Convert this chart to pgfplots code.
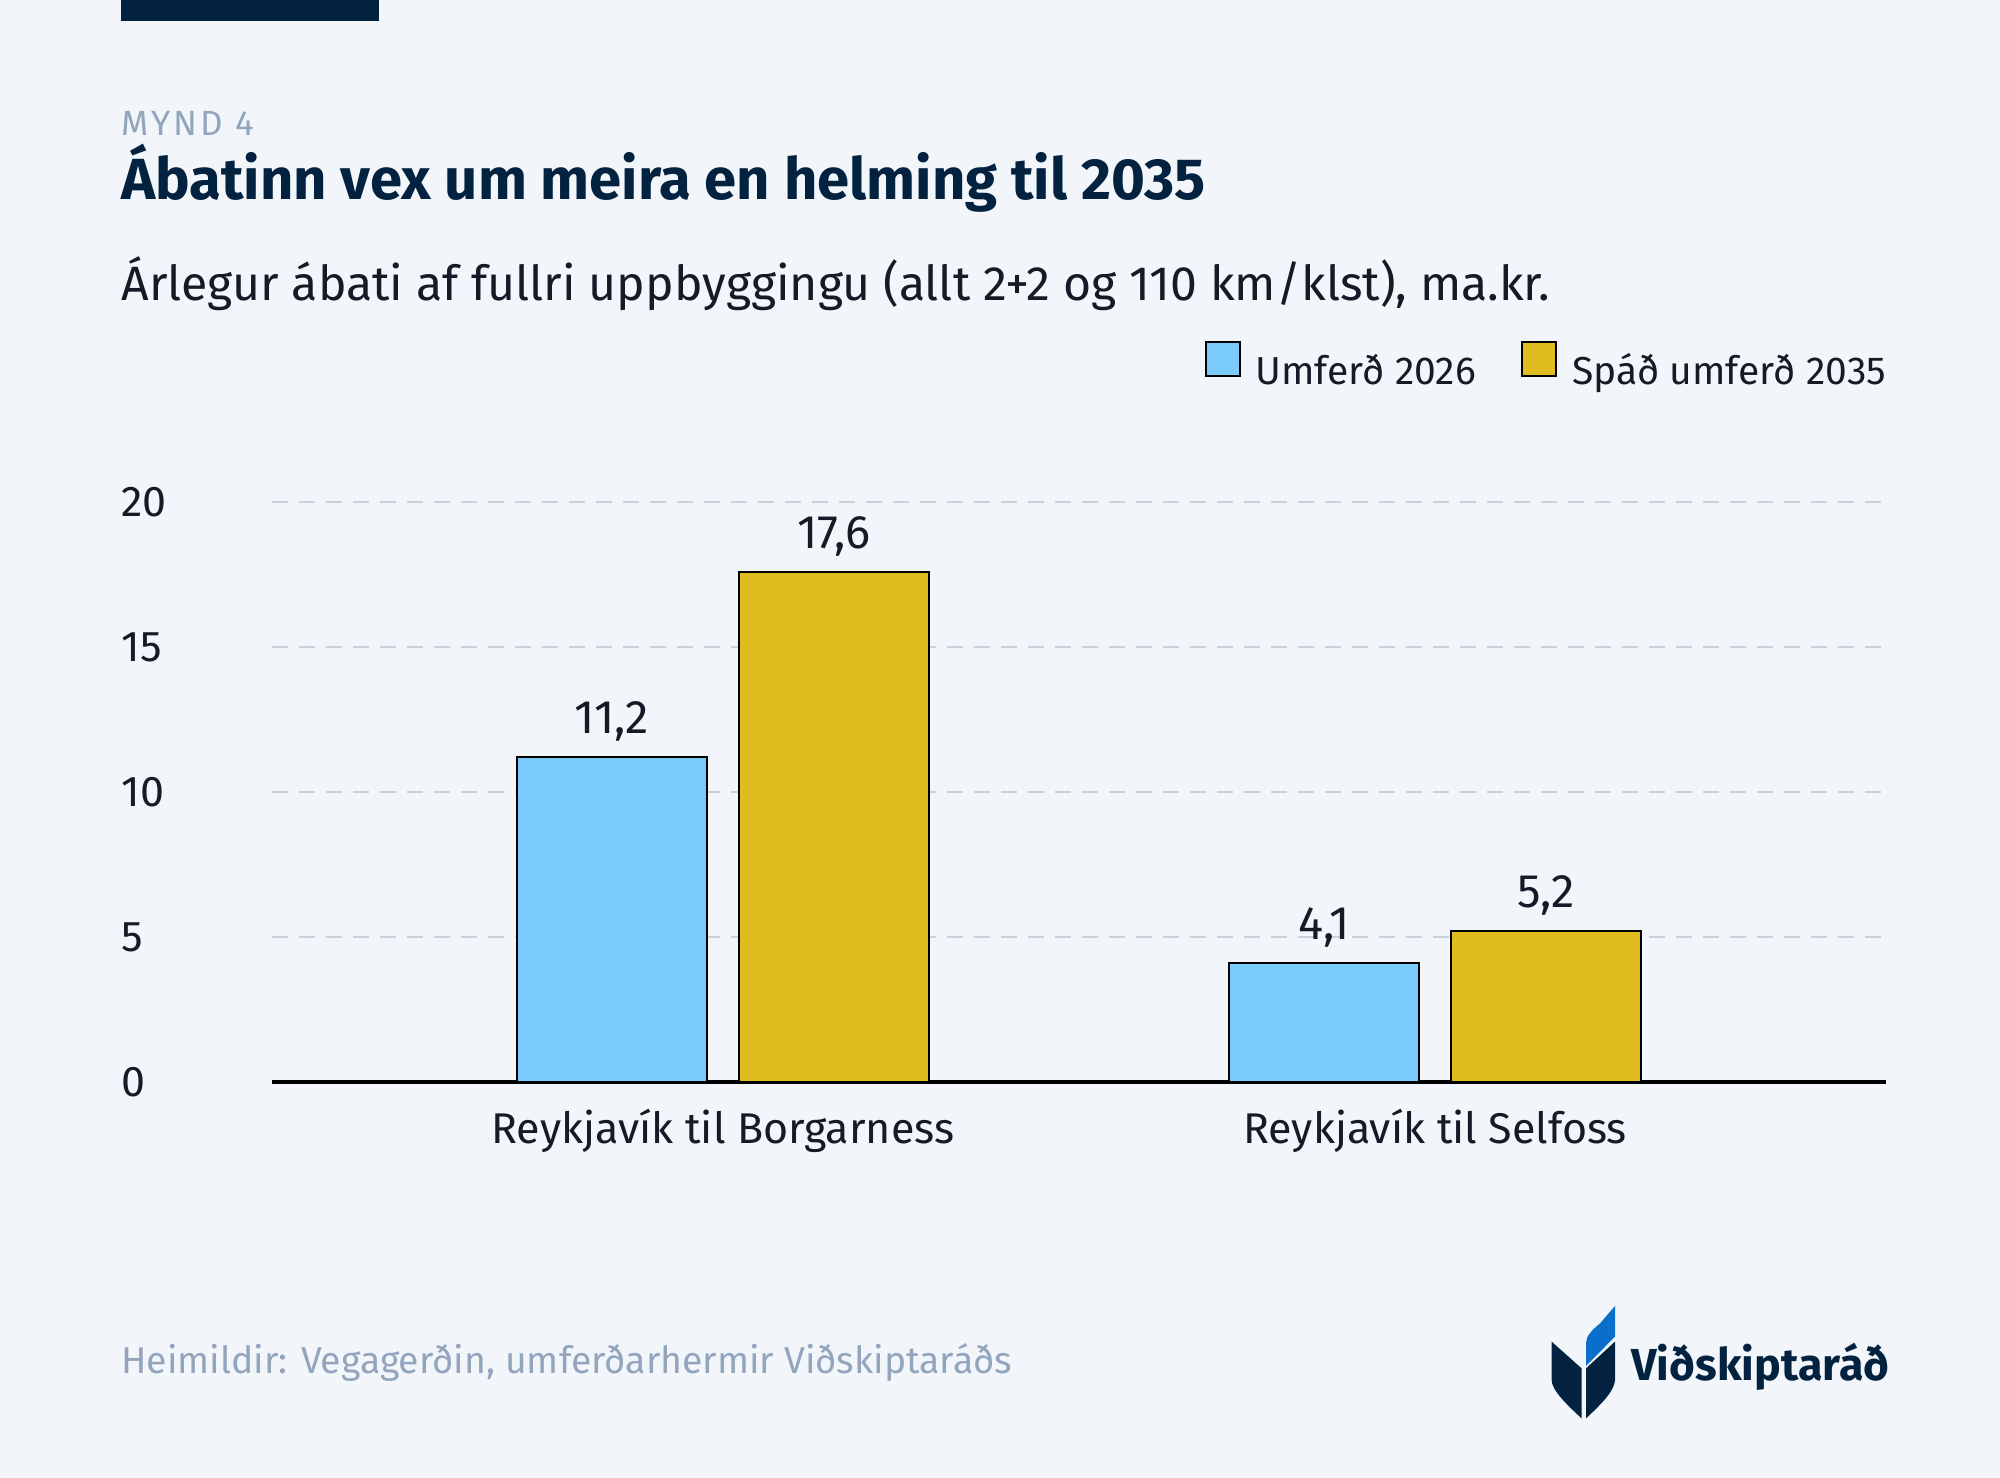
\documentclass[border=0pt]{standalone}
\usepackage{fontspec}
\setmainfont{Fira Sans}
\usepackage{pgfplots}
\pgfplotsset{compat=1.18}
\definecolor{bg}{HTML}{F2F6FB}
\definecolor{navy}{HTML}{02223F}
\definecolor{graytxt}{HTML}{93A5BC}
\definecolor{txt}{HTML}{141A26}
\definecolor{blueb}{HTML}{7ACCFD}
\definecolor{yellowb}{HTML}{E0BC20}
\definecolor{gridc}{HTML}{C8D1DC}
\definecolor{logoblue}{HTML}{0A6FCB}
\begin{document}
\begin{tikzpicture}[x=1bp,y=1bp]
\fill[bg] (0,0) rectangle (1000,739);
\fill[navy] (60.5,728.5) rectangle (189.5,739);
\node[anchor=base west, inner sep=0, text=graytxt, font=\fontsize{17.5bp}{21bp}\selectfont\addfontfeatures{LetterSpace=9}] at (60.5,671) {MYND 4};
\node[anchor=base west, inner sep=0, text=navy, font=\fontsize{29bp}{34bp}\selectfont\bfseries] at (60.5,639) {Ábatinn vex um meira en helming til 2035};
\node[anchor=base west, inner sep=0, text=txt, font=\fontsize{24.1bp}{29bp}\selectfont] at (60.5,588.5) {Árlegur ábati af fullri uppbyggingu (allt 2+2 og 110 km/klst), ma.kr.};
\node[anchor=base west, inner sep=0, text=graytxt, font=\fontsize{18.7bp}{23bp}\selectfont] at (60.5,52) {Heimildir: Vegagerðin, umferðarhermir Viðskiptaráðs};
% logo
\fill[navy] (775.8,68.2) -- (790.8,54.8) -- (790.8,29.8) .. controls (782,38) and (776,44) .. (775.8,49) -- cycle;
\fill[navy] (807.5,68.2) -- (793,54.8) -- (793,29.8) .. controls (801.8,38) and (807.3,44) .. (807.5,49) -- cycle;
\fill[logoblue] (793,56) -- (793,67.3) .. controls (793,71) and (796,74) .. (800,77.3) -- (807.5,86) -- (807.5,70.7) -- cycle;
\node[anchor=base west, inner sep=0, text=navy, font=\fontsize{22.4bp}{26bp}\selectfont\bfseries] at (815.5,48.5) {Viðskiptaráð};
\begin{axis}[
  at={(136bp,198bp)}, anchor=south west,
  scale only axis, width=807bp, height=289.75bp,
  xmin=-0.633, xmax=1.633, ymin=0, ymax=20,
  axis x line*=bottom, axis y line*=left,
  x axis line style={-, line width=2bp, black},
  y axis line style={draw=none},
  major tick length=0pt,
  ytick={0,5,10,15,20},
  xtick={0,1},
  xticklabels={Reykjavík til Borgarness, Reykjavík til Selfoss},
  /pgf/number format/assume math mode=true,
  yticklabel style={anchor=west, inner sep=0pt, xshift=-75.5bp, text=txt, font=\fontsize{21.5bp}{26bp}\selectfont},
  xticklabel style={anchor=base, inner sep=0pt, yshift=-31bp, text=txt, font=\fontsize{21.5bp}{26bp}\selectfont},
  ymajorgrids,
  grid style={gridc, line width=1bp, dash pattern=on 8bp off 5.5bp},
  ybar=16bp, bar width=95bp,
  clip=false,
  nodes near coords={\pgfmathprintnumber[fixed,precision=1,fixed zerofill,use comma,assume math mode=true]{\pgfplotspointmeta}},
  every node near coord/.append style={anchor=base, inner sep=0pt, yshift=12bp, text=txt, font=\fontsize{23.5bp}{28bp}\selectfont},
  legend columns=2,
  legend cell align=left,
  legend image code/.code={\draw[#1, line width=1bp] (0bp,-3bp) rectangle (17bp,14bp);},
  legend style={at={(axis description cs:1,1.238)}, anchor=east, draw=none, fill=none,
    inner sep=0pt, outer sep=0pt, nodes={inner sep=0pt}, text=txt,
    font=\fontsize{19.5bp}{23bp}\selectfont,
    /tikz/every odd column/.style={column sep=7.5bp},
    /tikz/column 2/.style={column sep=22.5bp}},
]
\addplot[fill=blueb, draw=black, line width=1bp] coordinates {(0,11.2) (1,4.1)};
\addplot[fill=yellowb, draw=black, line width=1bp] coordinates {(0,17.6) (1,5.2)};
\legend{Umferð 2026, Spáð umferð 2035}
\end{axis}
\end{tikzpicture}
\end{document}
